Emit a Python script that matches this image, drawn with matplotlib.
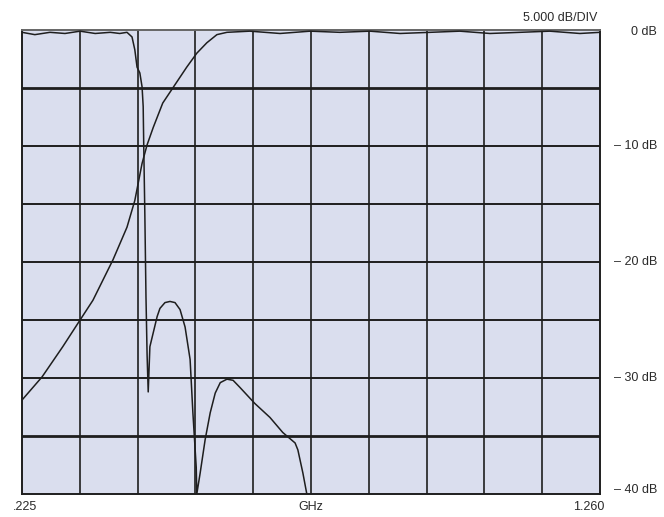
import matplotlib
matplotlib.use("Agg")
import matplotlib.pyplot as plt

# Frequency span (GHz) and amplitude scale (dB)
f_start, f_stop = 0.225, 1.260
db_top, db_bottom = 0.0, -40.0

# Low-band response: flat passband, steep skirt, two stopband lobes
low_freq = [0.225, 0.248, 0.275, 0.302, 0.329, 0.356, 0.383, 0.400, 0.413,
            0.422, 0.427, 0.431, 0.436, 0.440, 0.442, 0.443, 0.445, 0.447,
            0.449, 0.451, 0.454, 0.460, 0.467, 0.472, 0.481, 0.490, 0.499,
            0.508, 0.517, 0.526, 0.531, 0.537, 0.538, 0.544, 0.553, 0.562,
            0.571, 0.580, 0.592, 0.603, 0.615, 0.642, 0.669, 0.692, 0.714,
            0.719, 0.728, 0.735]
low_db = [-0.2, -0.4, -0.2, -0.3, -0.1, -0.3, -0.2, -0.3, -0.2,
          -0.6, -1.7, -3.2, -3.7, -4.9, -6.6, -10.0, -16.0, -23.0,
          -28.0, -31.2, -27.3, -26.1, -24.7, -24.0, -23.5, -23.4, -23.5,
          -24.1, -25.6, -28.4, -33.0, -37.7, -40.0, -38.2, -35.3, -33.0,
          -31.3, -30.4, -30.1, -30.2, -30.8, -32.2, -33.4, -34.7, -35.6,
          -36.2, -38.2, -40.0]

# High-band response: gradual rise into a flat passband
high_freq = [0.225, 0.261, 0.298, 0.329, 0.352, 0.388, 0.413, 0.427, 0.440,
             0.449, 0.460, 0.477, 0.495, 0.520, 0.538, 0.556, 0.574, 0.592,
             0.633, 0.687, 0.741, 0.794, 0.848, 0.902, 0.956, 1.009, 1.063,
             1.117, 1.170, 1.224, 1.260]
high_db = [-31.9, -29.9, -27.3, -25.0, -23.3, -19.8, -17.0, -14.7, -11.5,
           -9.9, -8.4, -6.3, -5.0, -3.2, -2.0, -1.1, -0.4, -0.2,
           -0.1, -0.3, -0.1, -0.2, -0.1, -0.3, -0.2, -0.1, -0.3,
           -0.2, -0.1, -0.3, -0.2]

right_labels = ["0 dB", "\u2013 10 dB", "\u2013 20 dB", "\u2013 30 dB", "\u2013 40 dB"]
right_label_db = [0, -10, -20, -30, -40]
scale_text = "5.000 dB/DIV"
x_left_text, x_mid_text, x_right_text = ".225", "GHz", "1.260"

plt.rcParams['font.family'] = ['Liberation Sans', 'DejaVu Sans']

W, H = 664, 517
fig = plt.figure(figsize=(W / 100, H / 100), dpi=100)
fig.patch.set_facecolor("white")

left_px, right_px, top_px, bottom_px = 22, 600, 30, 494
ax = fig.add_axes([left_px / W, 1 - bottom_px / H,
                   (right_px - left_px) / W, (bottom_px - top_px) / H])
ax.set_facecolor("#dadeee")
ax.set_xlim(f_start, f_stop)
ax.set_ylim(db_bottom, db_top)

ink = "#1e1e1e"
# graticule: 10 x 8 divisions
for k in range(1, 10):
    ax.axvline(f_start + k * (f_stop - f_start) / 10, color=ink, lw=1.2, zorder=1)
for k in range(1, 8):
    lw = 2.0 if k in (1, 7) else 1.4
    ax.axhline(-5 * k, color=ink, lw=lw, zorder=1)

ax.set_xticks([])
ax.set_yticks([])
for side in ax.spines.values():
    side.set_color(ink)
    side.set_linewidth(1.4)
ax.spines["top"].set_color("#666666")

ax.plot(low_freq, low_db, color=ink, lw=1.1, zorder=3, clip_on=True)
ax.plot(high_freq, high_db, color=ink, lw=1.1, zorder=3, clip_on=True)

txt = "#2a2a2a"
fs = 9
for lab, v in zip(right_labels, right_label_db):
    y_px = top_px + (db_top - v) / (db_top - db_bottom) * (bottom_px - top_px)
    if v == db_bottom:
        y_px -= 4
    if v == db_top:
        y_px += 2
    fig.text(657 / W, 1 - y_px / H, lab, ha="right", va="center",
             fontsize=fs, color=txt)

fig.text(597 / W, 1 - 18 / H, scale_text, ha="right", va="center",
         fontsize=fs, color=txt)
fig.text(25 / W, 1 - 507 / H, x_left_text, ha="center", va="center",
         fontsize=fs, color=txt)
fig.text(311 / W, 1 - 507 / H, x_mid_text, ha="center", va="center",
         fontsize=fs, color=txt)
fig.text(589 / W, 1 - 507 / H, x_right_text, ha="center", va="center",
         fontsize=fs, color=txt)

fig.savefig("out.png", dpi=100, facecolor="white")
